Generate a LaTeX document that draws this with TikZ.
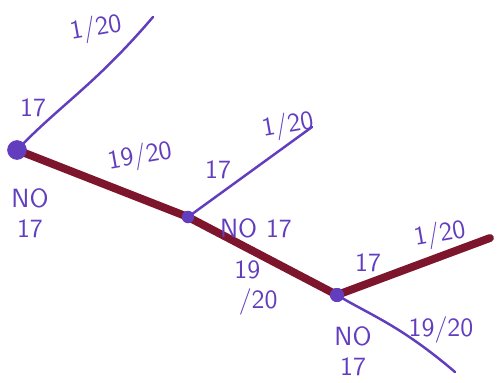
\documentclass[tikz,border=0pt]{standalone}
\usepackage{tikz}
\usetikzlibrary{arrows.meta}
\usepackage{xcolor}
\definecolor{ink}{RGB}{98,62,190}
\definecolor{marker}{RGB}{125,22,45}

\begin{document}
\begin{tikzpicture}[x=0.2mm,y=-0.2mm,line cap=round,
  font=\sffamily\fontsize{15}{17}\selectfont,
  dot/.style={circle,fill=ink,inner sep=0pt,minimum size=#1},
  thin branch/.style={ink,line width=1.4pt},
  thick branch/.style={marker,line width=4.5pt},
  lbl/.style={text=ink,inner sep=1pt}]
\useasboundingbox (0,0) rectangle (504,383);
% tree nodes
\node[dot=11pt] (A) at (17,150) {};
\node[dot=7pt] (B) at (188,217) {};
\node[dot=8pt] (C) at (337,295) {};
\coordinate (A1) at (153,17);
\coordinate (B1) at (312,127);
\coordinate (C1) at (490,238);
\coordinate (C2) at (455,372);
% branches
\draw[thin branch] (A.center) .. controls (60,105) and (95,85) .. (A1);
\draw[thick branch] (A.center) -- (B.center);
\draw[thin branch] (B.center) -- (B1);
\draw[thick branch] (B.center) -- (C.center);
\draw[thick branch] (C.center) -- (C1);
\draw[thin branch] (C.center) .. controls (370,315) and (400,325) .. (C2);
\node[dot=11pt] at (A) {};
\node[dot=7pt] at (B) {};
\node[dot=8pt] at (C) {};
% probabilities
\node[lbl,rotate=10] (pA1) at (96,29) {1/20};
\node[lbl] (sA1) at (33,108) {17};
\node[lbl,rotate=10] (pA2) at (140,157) {19/20};
\node[lbl,align=center] (sA2) at (30,213) {NO\\17};
\node[lbl,rotate=10] (pB1) at (288,126) {1/20};
\node[lbl] (sB1) at (218,170) {17};
\node[lbl] (sB2) at (256,228) {NO\,\,17};
\node[lbl,align=left] (pB2) at (256,288) {19\\\,/20};
\node[lbl] (sC1) at (368,263) {17};
\node[lbl,rotate=10] (pC1) at (440,235) {1/20};
\node[lbl] (pC2) at (441,330) {19/20};
\node[lbl,align=center] (sC2) at (353,351) {NO\\17};
\end{tikzpicture}
\end{document}
